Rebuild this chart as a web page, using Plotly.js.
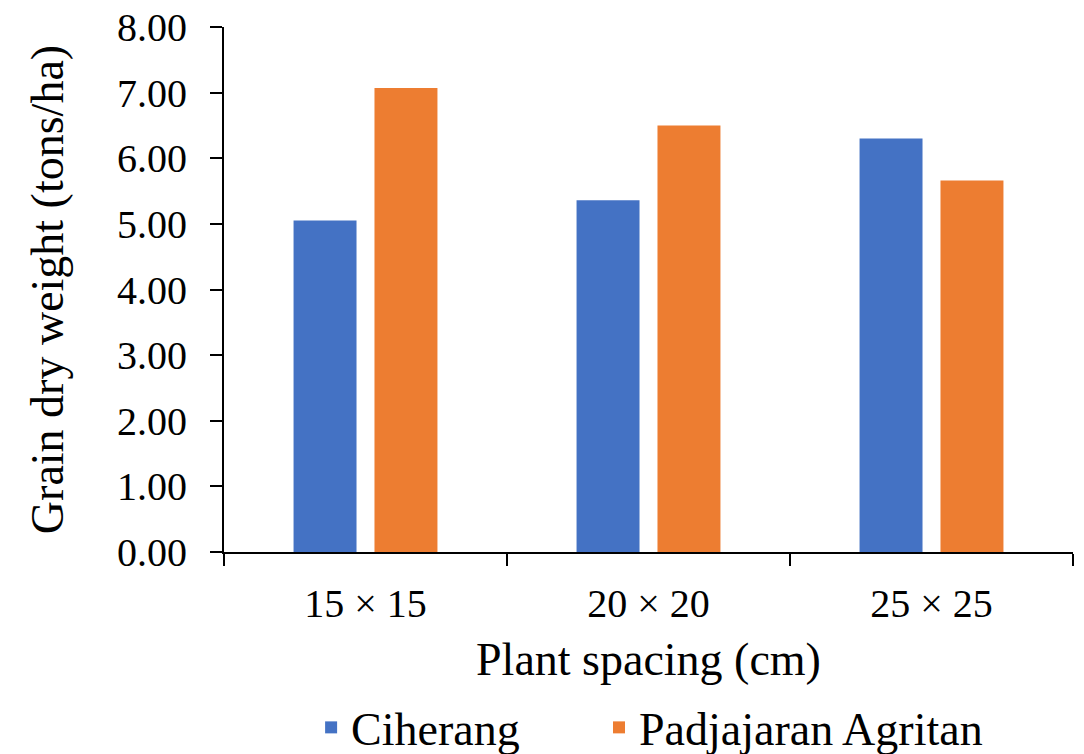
<!DOCTYPE html>
<html>
<head>
<meta charset="utf-8">
<script src="https://cdn.plot.ly/plotly-3.0.1.min.js"></script>
<style>html,body{margin:0;padding:0;background:#fff;}#chart{width:1084px;height:754px;}</style>
</head>
<body>
<div id="chart"></div>
<script>
const categories = ["15 × 15", "20 × 20", "25 × 25"];
const ciherang = [5.05, 5.36, 6.30];
const padjajaran = [7.07, 6.50, 5.66];
const seriesNames = ["Ciherang", "Padjajaran Agritan"];

const FONT = "Liberation Serif, Times New Roman, serif";

const traces = [
  {type: "bar", name: seriesNames[0], x: categories, y: ciherang, marker: {color: "#4472C4"}, legend: "legend"},
  {type: "bar", name: seriesNames[1], x: categories, y: padjajaran, marker: {color: "#ED7D31"}, legend: "legend2"}
];

const legendBase = {
  orientation: "h", xref: "container", yref: "container",
  xanchor: "left", y: 0.0836, yanchor: "top",
  font: {family: FONT, size: 46, color: "#000"}, itemwidth: 30,
  bgcolor: "rgba(0,0,0,0)"
};

const layout = {
  width: 1084, height: 754,
  margin: {l: 224, r: 11, t: 27, b: 202},
  paper_bgcolor: "#fff", plot_bgcolor: "#fff",
  font: {family: FONT, color: "#000", size: 40},
  barmode: "group", bargap: 0.428, bargroupgap: 0.222,
  showlegend: true,
  legend: Object.assign({}, legendBase, {x: 0.287}),
  legend2: Object.assign({}, legendBase, {x: 0.5526}),
  xaxis: {
    type: "category", showgrid: false, zeroline: false,
    showline: true, linecolor: "#000", linewidth: 2,
    ticks: "outside", tickson: "boundaries", ticklen: 12, tickwidth: 2, tickcolor: "#000",
    ticklabelstandoff: 15,
    tickfont: {family: FONT, size: 40, color: "#000"},
    title: {text: "Plant spacing (cm)", font: {family: FONT, size: 46, color: "#000"}, standoff: 18},
    automargin: false
  },
  yaxis: {
    range: [0, 8], dtick: 1, tickformat: ".2f",
    showgrid: false, zeroline: false,
    showline: true, linecolor: "#000", linewidth: 2,
    ticks: "outside", ticklen: 12, tickwidth: 2, tickcolor: "#000",
    ticklabelstandoff: 15,
    tickfont: {family: FONT, size: 40, color: "#000"},
    title: {text: "Grain dry weight (tons/ha)", font: {family: FONT, size: 46, color: "#000"}, standoff: 39},
    automargin: false
  }
};

Plotly.newPlot("chart", traces, layout, {displayModeBar: false, staticPlot: true});
</script>
</body>
</html>
